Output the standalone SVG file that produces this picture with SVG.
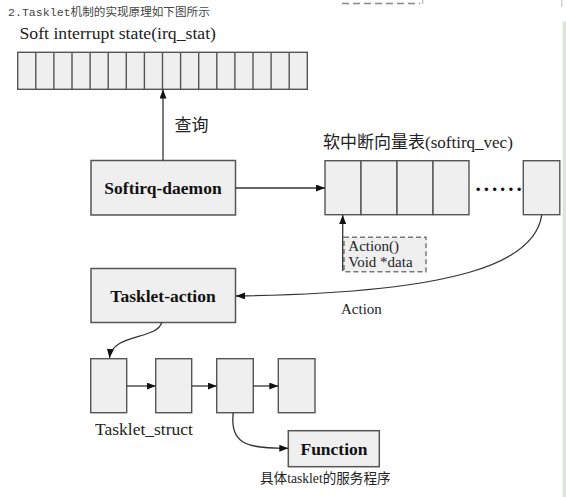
<svg xmlns="http://www.w3.org/2000/svg" width="566" height="497" viewBox="0 0 566 497">
<style>
.box{fill:#efefef;stroke:#555;stroke-width:1.5}
.cell{fill:#efefef;stroke:#555;stroke-width:1.4}
.ln{fill:none;stroke:#333;stroke-width:1.3}
.ser{font-family:"Liberation Serif","Noto Sans CJK SC",serif;fill:#222}
.bold{font-family:"Liberation Serif",serif;font-weight:bold;font-size:17.5px;fill:#111;text-anchor:middle}
</style>
<defs>
<marker id="ah" markerUnits="userSpaceOnUse" markerWidth="10" markerHeight="8" refX="9" refY="3.5" orient="auto">
<path d="M0,0 L9,3.5 L0,7 z" fill="#111"/>
</marker>
</defs>
<rect width="566" height="497" fill="#fff"/>
<!-- page remnants -->
<line x1="342" y1="3.5" x2="420" y2="3.5" stroke="#888" stroke-width="1.6" stroke-dasharray="7,4"/>
<line x1="423" y1="0" x2="422.5" y2="4" stroke="#aaa" stroke-width="1"/>
<line x1="561.8" y1="0" x2="561.8" y2="7" stroke="#bbb" stroke-width="1"/>
<rect x="562.5" y="21.5" width="3.5" height="476" fill="#d8e9db"/>
<text x="8" y="16" font-family="'Liberation Mono','Noto Sans CJK SC',monospace" font-size="11.6" fill="#444">2.Tasklet机制的实现原理如下图所示</text>

<g id="irq_stat">
<text class="ser" x="19.5" y="39" font-size="17.7">Soft interrupt state(irq_stat)</text>
<rect class="cell" x="17.7" y="52.3" width="289.6" height="37"/>
<path d="M35.8,52.3V89.3M53.9,52.3V89.3M72,52.3V89.3M90.1,52.3V89.3M108.2,52.3V89.3M126.3,52.3V89.3M144.4,52.3V89.3M162.5,52.3V89.3M180.6,52.3V89.3M198.7,52.3V89.3M216.8,52.3V89.3M234.9,52.3V89.3M253,52.3V89.3M271.1,52.3V89.3M289.2,52.3V89.3" stroke="#555" stroke-width="1.4"/>
</g>

<g id="softirq_daemon">
<rect class="box" x="91" y="160.5" width="144.5" height="54.5"/>
<text class="bold" x="163" y="194">Softirq-daemon</text>
</g>

<g id="softirq_vec">
<text class="ser" x="323" y="148" font-size="17">软中断向量表(softirq_vec)</text>
<rect class="cell" x="325" y="160.7" width="36" height="54"/>
<rect class="cell" x="361" y="160.7" width="36" height="54"/>
<rect class="cell" x="397" y="160.7" width="36" height="54"/>
<rect class="cell" x="433" y="160.7" width="36" height="54"/>
<text x="475.5" y="190.5" font-family="'Liberation Serif',serif" font-weight="bold" font-size="21" letter-spacing="2.95" fill="#111">......</text>
<rect class="cell" x="523.3" y="160.7" width="36.5" height="54"/>
</g>

<g id="action_data">
<rect x="344" y="237.3" width="82" height="34.4" fill="#efefef" stroke="#777" stroke-width="1.5" stroke-dasharray="5,3"/>
<text class="ser" x="348.3" y="250.5" font-size="15">Action()</text>
<text class="ser" x="348.3" y="266.5" font-size="15">Void *data</text>
</g>

<g id="tasklet_action">
<rect class="box" x="91" y="268.5" width="144.5" height="54"/>
<text class="bold" x="163" y="302">Tasklet-action</text>
</g>

<g id="tasklet_struct">
<rect class="cell" x="90.7" y="358.7" width="36" height="54"/>
<rect class="cell" x="155.7" y="358.7" width="36" height="54"/>
<rect class="cell" x="216.7" y="358.7" width="36.6" height="54"/>
<rect class="cell" x="278.3" y="358.7" width="36.7" height="54"/>
<text class="ser" x="95" y="435" font-size="17.5">Tasklet_struct</text>
</g>

<g id="function">
<rect class="box" x="288.3" y="430.7" width="91" height="36"/>
<text class="bold" x="334" y="454.5">Function</text>
<text class="ser" x="260" y="483" font-size="13.6" fill="#333">具体tasklet的服务程序</text>
</g>

<g id="connectors">
<line class="ln" x1="163" y1="160.5" x2="163" y2="89.5" marker-end="url(#ah)"/>
<text class="ser" x="174.5" y="131" font-size="17" fill="#333">查询</text>
<line class="ln" x1="235.5" y1="188" x2="325" y2="188" marker-end="url(#ah)"/>
<line class="ln" x1="342.7" y1="271" x2="342.7" y2="215" marker-end="url(#ah)"/>
<path class="ln" d="M541.7,215 C535,262 460,293 236,296" marker-end="url(#ah)"/>
<text class="ser" x="341" y="313.5" font-size="15">Action</text>
<path class="ln" d="M161.7,322.5 C157,340 112,333 109.5,358" marker-end="url(#ah)"/>
<line class="ln" x1="126.7" y1="386" x2="155.7" y2="386" marker-end="url(#ah)"/>
<line class="ln" x1="191.7" y1="386" x2="216.7" y2="386" marker-end="url(#ah)"/>
<line class="ln" x1="253.3" y1="386" x2="278.3" y2="386" marker-end="url(#ah)"/>
<path class="ln" d="M233.3,412.7 C229,446 250,448.3 288.3,448.3" marker-end="url(#ah)"/>
</g>
</svg>
